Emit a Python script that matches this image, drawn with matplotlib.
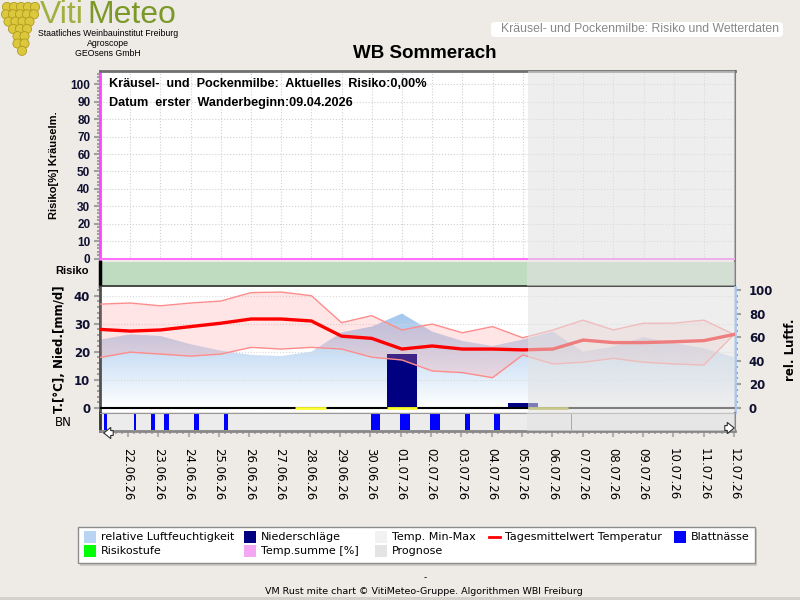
import numpy as np
import pandas as pd
import matplotlib
matplotlib.use("Agg")
import matplotlib.pyplot as plt
from matplotlib.patches import Rectangle, FancyBboxPatch, Circle
from matplotlib.ticker import MultipleLocator
from matplotlib.colors import LinearSegmentedColormap

# daily data, index 0 = 21.06.26
dates = pd.date_range("2026-06-21", "2026-07-12").strftime("%d.%m.%y").tolist()
t_mean = [28.0, 27.4, 27.8, 29.0, 30.2, 31.7, 31.7, 31.0, 25.6, 24.8, 21.0,
          22.1, 21.0, 21.0, 20.7, 21.0, 24.2, 23.3, 23.3, 23.6, 24.0, 26.2]
t_max = [37.0, 37.4, 36.4, 37.4, 38.1, 41.1, 41.3, 40.0, 30.4, 32.9, 27.8,
         29.9, 26.8, 29.0, 25.0, 27.8, 31.3, 27.8, 30.2, 30.2, 31.3, 26.2]
t_min = [18.0, 19.9, 19.2, 18.5, 19.2, 21.6, 21.0, 21.6, 21.0, 18.1, 17.1,
         13.2, 12.6, 10.8, 18.9, 15.7, 16.3, 17.7, 16.3, 15.7, 15.3, 26.2]
humidity = [57.9, 62.4, 61.0, 54.0, 48.6, 45.0, 44.0, 47.7, 64.0, 69.0, 80.0,
            64.7, 56.8, 52.5, 58.0, 64.7, 47.7, 52.0, 60.0, 55.0, 50.6, 43.0]
precip = [0, 0, 0, 0, 0, 0, 0, 0, 0, 0, 19.2,
          0, 0, 0, 1.9, 0, 0, 0, 0, 0, 0, 0]
risk = [0.0] * len(dates)
risk_level = [1] * len(dates)
# leaf wetness periods (start day, duration in days)
leaf_wet = [(0.21, 0.10), (1.20, 0.06), (1.76, 0.13), (2.19, 0.17), (3.18, 0.17),
            (4.17, 0.14), (9.03, 0.30), (9.96, 0.36), (10.95, 0.36), (12.11, 0.16),
            (13.07, 0.19)]
leaf_wet_prog = [(14.81, 0.03), (15.63, 0.03)]
trace_rain = [(6.45, 7.48), (9.5, 10.5)]
trace_rain_prog = [(14.19, 15.51)]
prog_start = 14.17

day = np.arange(len(dates))
XLIM = (0.074, 21.03)
BG = "#eeebe7"
PROG = dict(color="#e2e2e2", alpha=0.56, lw=0, zorder=10)

plt.rcParams["font.family"] = ["DejaVu Sans"]
fig = plt.figure(figsize=(8, 6), dpi=100, facecolor=BG)


def rect(x0, y0, x1, y1):
    return [x0 / 800, 1 - y1 / 600, (x1 - x0) / 800, (y1 - y0) / 600]


# ---- top panel: risk ----
ax_top = fig.add_axes(rect(100, 71, 735, 260))
ax_top.set_facecolor("white")
ax_top.plot(day, risk, color="#ff70ff", lw=2.2, zorder=5)
ax_top.set_xlim(*XLIM)
ax_top.set_ylim(-0.75, 107.6)
ax_top.set_yticks(range(0, 101, 10))
ax_top.yaxis.set_minor_locator(MultipleLocator(2))
ax_top.set_xticks(day)
ax_top.tick_params(axis="x", length=0, labelbottom=False)
ax_top.tick_params(axis="y", which="major", length=4, width=1.5, color="#a0a0a0", pad=3)
ax_top.tick_params(axis="y", which="minor", length=2, width=1.5, color="#a0a0a0")
for lab in ax_top.get_yticklabels():
    lab.set_fontfamily("Liberation Sans")
    lab.set_fontweight("bold")
    lab.set_fontsize(8.5)
    lab.set_color("#101030")
ax_top.grid(True, ls=":", color="#d0d0d0", lw=0.8)
ax_top.spines["left"].set_color("#ff44ff")
ax_top.spines["left"].set_linewidth(2)
ax_top.spines["top"].set_color("#707070")
ax_top.spines["top"].set_linewidth(2)
ax_top.spines["right"].set_color("#808080")
ax_top.spines["right"].set_linewidth(1.5)
ax_top.spines["bottom"].set_visible(False)
ax_top.axvspan(prog_start, XLIM[1], **PROG)
ax_top.set_ylabel("Risiko[%] Kräuselm.", fontfamily="Liberation Sans", fontweight="bold",
                  fontsize=8, labelpad=8)

fig.text(109 / 800, 1 - 84 / 600, "Kräusel-  und  Pockenmilbe:  Aktuelles  Risiko:0,00%",
         fontfamily="Liberation Sans", fontweight="bold", fontsize=9.1, va="center")
fig.text(109 / 800, 1 - 103 / 600, "Datum  erster  Wanderbeginn:09.04.2026",
         fontfamily="Liberation Sans", fontweight="bold", fontsize=9.1, va="center")

# ---- risk level strip ----
ax_strip = fig.add_axes(rect(100, 261.5, 735, 286))
level_colors = {1: "#c0dcc0", 2: "#ffff80", 3: "#ff8080"}
ax_strip.bar(day, [1] * len(day), width=1.0, color=[level_colors[r] for r in risk_level], lw=0)
ax_strip.set_xlim(*XLIM)
ax_strip.set_ylim(0, 1)
ax_strip.set_xticks([])
ax_strip.set_yticks([])
ax_strip.spines["left"].set_color("black")
ax_strip.spines["left"].set_linewidth(2.5)
ax_strip.spines["bottom"].set_color("#202020")
ax_strip.spines["bottom"].set_linewidth(1.1)
ax_strip.spines["top"].set_visible(False)
ax_strip.spines["right"].set_color("#808080")
ax_strip.spines["right"].set_linewidth(1.5)
ax_strip.axvspan(prog_start, XLIM[1], **PROG)
fig.text(55 / 800, 1 - 271 / 600, "Risiko", fontfamily="Liberation Sans",
         fontweight="bold", fontsize=8, va="center")

# ---- weather panel ----
ax_h = fig.add_axes(rect(100, 287, 735, 412))
ax_h.set_facecolor("white")
poly = ax_h.fill_between(day, 0, humidity, color="none", lw=0)
cmap = LinearSegmentedColormap.from_list("hum", ["#ffffff", "#c6dcf4", "#8cb8e8"])
grad = np.linspace(0, 1, 256).reshape(-1, 1)
im = ax_h.imshow(grad, extent=[XLIM[0], XLIM[1], 0, 100], aspect="auto",
                 cmap=cmap, origin="lower", zorder=1)
im.set_clip_path(poly.get_paths()[0], transform=ax_h.transData)
for s in ax_h.spines.values():
    s.set_visible(False)

ax_t = ax_h.twinx()
# humidity scale on the right, temperature on the left
ax_h.yaxis.tick_right()
ax_h.yaxis.set_label_position("right")
ax_t.yaxis.tick_left()
ax_t.yaxis.set_label_position("left")
ax_h.set_xlim(*XLIM)
ax_h.set_ylim(-3.39, 102.5)
ax_h.set_yticks(range(0, 101, 20))
ax_h.yaxis.set_minor_locator(MultipleLocator(5))
ax_h.tick_params(axis="x", which="both", length=0, labelbottom=False, labeltop=False)
ax_h.tick_params(axis="y", which="major", length=4, width=1.5, color="#a0a0a0", pad=6,
                 labelsize=8.5, labelcolor="#101030", left=False, labelleft=False,
                 right=True, labelright=True)
ax_h.tick_params(axis="y", which="minor", length=2, width=1.5, color="#a0a0a0",
                 left=False, right=True)
for lab in ax_h.get_yticklabels():
    lab.set_fontweight("bold")
ax_h.set_ylabel("rel. Luftf.", fontweight="bold", fontsize=8.5, labelpad=8)

ax_t.patch.set_visible(False)
ax_t.bar(day, precip, width=1.0, color="#000080", lw=0, zorder=2)
ax_t.fill_between(day, t_min, t_max, color="#ff9999", alpha=0.25, lw=0, zorder=3)
ax_t.plot(day, t_max, color="#ff8c8c", lw=1, zorder=4)
ax_t.plot(day, t_min, color="#ff8c8c", lw=1, zorder=4)
ax_t.axhline(0, color="black", lw=1.5, zorder=4)
for x0, x1 in trace_rain:
    ax_t.hlines(0, x0, x1, color="#ffff30", lw=2, zorder=4.5)
for x0, x1 in trace_rain_prog:
    ax_t.hlines(0, x0, x1, color="#a8a820", lw=2, zorder=4.5)
ax_t.plot(day, t_mean, color="#ff0000", lw=2.4, zorder=5)
ax_t.set_xlim(*XLIM)
ax_t.set_ylim(-1.42, 43.1)
ax_t.set_yticks(range(0, 41, 10))
ax_t.yaxis.set_minor_locator(MultipleLocator(2))
ax_t.set_xticks(day)
ax_t.tick_params(axis="x", which="both", length=0, labelbottom=False, labeltop=False)
ax_t.tick_params(axis="y", which="major", length=4, width=1.5, color="#a0a0a0", pad=3,
                 labelsize=8.5, labelcolor="#101030", right=False, labelright=False)
ax_t.tick_params(axis="y", which="minor", length=2, width=1.5, color="#a0a0a0", right=False)
for lab in ax_t.get_yticklabels():
    lab.set_fontweight("bold")
ax_t.grid(True, ls=":", color="#d8d8d8", lw=0.8)
ax_t.set_ylabel("T.[°C], Nied.[mm/d]", fontweight="bold", fontsize=8.5, labelpad=6)
ax_t.spines["left"].set_color("#505050")
ax_t.spines["left"].set_linewidth(2)
ax_t.spines["right"].set_color("#a8c8f0")
ax_t.spines["right"].set_linewidth(2)
ax_t.spines["top"].set_visible(False)
ax_t.spines["bottom"].set_visible(False)
ax_t.axvspan(prog_start, XLIM[1], **PROG)

# ---- leaf wetness strip ----
ax_bn = fig.add_axes(rect(100, 413, 735, 431))
ax_bn.set_facecolor("#ececec")
ax_bn.broken_barh(leaf_wet, (0.06, 0.9), color="#0000ff", lw=0)
ax_bn.broken_barh(leaf_wet, (0.02, 0.06), color="#ffff40", lw=0)
ax_bn.broken_barh(leaf_wet_prog, (0.06, 0.9), color="#5050ff", lw=0)
ax_bn.set_xlim(*XLIM)
ax_bn.set_ylim(0, 1)
ax_bn.set_yticks([])
ax_bn.set_xticks(day[1:])
ax_bn.set_xticklabels(dates[1:], rotation=270, fontsize=8.5, va="top", ha="center")
ax_bn.xaxis.set_minor_locator(MultipleLocator(0.2))
ax_bn.tick_params(axis="x", which="major", length=4, width=1.5, color="#b0b0b0", pad=8)
ax_bn.tick_params(axis="x", which="minor", length=2, width=1.5, color="#b0b0b0")
ax_bn.spines["left"].set_color("#303030")
ax_bn.spines["left"].set_linewidth(2)
ax_bn.spines["bottom"].set_color("#888888")
ax_bn.spines["bottom"].set_linewidth(2)
ax_bn.spines["top"].set_color("#999999")
ax_bn.spines["right"].set_color("#888888")
ax_bn.spines["right"].set_linewidth(1.5)
ax_bn.axvspan(prog_start, XLIM[1], **PROG)
fig.text(55 / 800, 1 - 422 / 600, "BN", fontsize=8.5, va="center")

arrow = dict(arrowstyle="simple,head_width=0.8,head_length=0.5,tail_width=0.35",
             fc="white", ec="#303030", lw=0.8)
fig.add_artist(plt.Annotation("", xy=(101, 600 - 433), xytext=(116, 600 - 433),
                              xycoords="figure pixels", textcoords="figure pixels",
                              arrowprops=arrow))
fig.add_artist(plt.Annotation("", xy=(737, 600 - 428), xytext=(722, 600 - 428),
                              xycoords="figure pixels", textcoords="figure pixels",
                              arrowprops=arrow))

# ---- header ----
fig.text(425 / 800, 1 - 54 / 600, "WB Sommerach", fontfamily="Liberation Sans",
         fontweight="bold", fontsize=13.5, ha="center", va="center")
fig.patches.append(FancyBboxPatch((491 / 800, 1 - 37 / 600), 292 / 800, 15 / 600,
                                  boxstyle="round,pad=0,rounding_size=0.006",
                                  transform=fig.transFigure, fc="white", ec="none"))
fig.text(779 / 800, 1 - 29 / 600, "Kräusel- und Pockenmilbe: Risiko und Wetterdaten",
         fontfamily="Liberation Sans", fontsize=8.8, color="#888888", ha="right", va="center")

# logo
fig.text(40 / 800, 1 - 15 / 600, "Viti", fontfamily="Liberation Sans", fontsize=23,
         color="#a0b040", va="center")
fig.text(87 / 800, 1 - 15 / 600, "Meteo", fontfamily="Liberation Sans", fontsize=23,
         color="#7c9828", va="center")
for i, txt in enumerate(["Staatliches Weinbauinstitut Freiburg", "Agroscope", "GEOsens GmbH"]):
    fig.text(108 / 800, 1 - (33 + 10 * i) / 600, txt, fontfamily="Liberation Sans",
             fontsize=6.3, ha="center", va="center")
ax_logo = fig.add_axes(rect(0, 0, 42, 62))
ax_logo.set_xlim(0, 42)
ax_logo.set_ylim(62, 0)
ax_logo.axis("off")
for row, (cx, n) in enumerate([(21, 5), (20, 5), (19, 4), (20, 3), (21, 2), (21, 2), (22, 1)]):
    for k in range(n):
        x = cx + (k - (n - 1) / 2) * 7
        ax_logo.add_patch(Circle((x, 7 + row * 7.3), 4.6, fc="#dcc83c", ec="#b09a20", lw=0.6))

# ---- legend ----
fig.patches.append(Rectangle((80 / 800, 1 - 566 / 600), 677 / 800, 37 / 600,
                             transform=fig.transFigure, fc="#cfcac4", ec="none"))
fig.patches.append(Rectangle((78 / 800, 1 - 563 / 600), 677 / 800, 36 / 600,
                             transform=fig.transFigure, fc="white", ec="#8c8c8c", lw=1))
legend_items = [
    (84, 537, "#b8d4f2", "relative Luftfeuchtigkeit"),
    (244, 537, "#000080", "Niederschläge"),
    (375, 537, "#f2f2f2", "Temp. Min-Max"),
    (488, 537, "line", "Tagesmittelwert Temperatur"),
    (674, 537, "#0000ff", "Blattnässe"),
    (84, 551, "#00ff00", "Risikostufe"),
    (244, 551, "#f4a8f4", "Temp.summe [%]"),
    (375, 551, "#e4e4e4", "Prognose"),
]
for x, y, col, label in legend_items:
    if col == "line":
        fig.add_artist(plt.Line2D([(x + 1) / 800, (x + 12) / 800], [1 - y / 600] * 2,
                                  color="#ff0000", lw=2))
    else:
        fig.patches.append(Rectangle((x / 800, 1 - (y + 6) / 600), 12 / 800, 12 / 600,
                                     transform=fig.transFigure, fc=col, ec="none"))
    fig.text((x + 17) / 800, 1 - y / 600, label, fontsize=8.0, va="center")

fig.text(425 / 800, 1 - 578 / 600, "-", fontsize=6.5, ha="center", va="center")
fig.text(424 / 800, 1 - 591 / 600,
         "VM Rust mite chart © VitiMeteo-Gruppe. Algorithmen WBI Freiburg",
         fontsize=6.8, ha="center", va="center")
fig.patches.append(Rectangle((0, 0), 1, 3 / 600, transform=fig.transFigure,
                             fc="#d4d0cb", ec="none"))

fig.savefig("out.png", dpi=100, facecolor=BG)
